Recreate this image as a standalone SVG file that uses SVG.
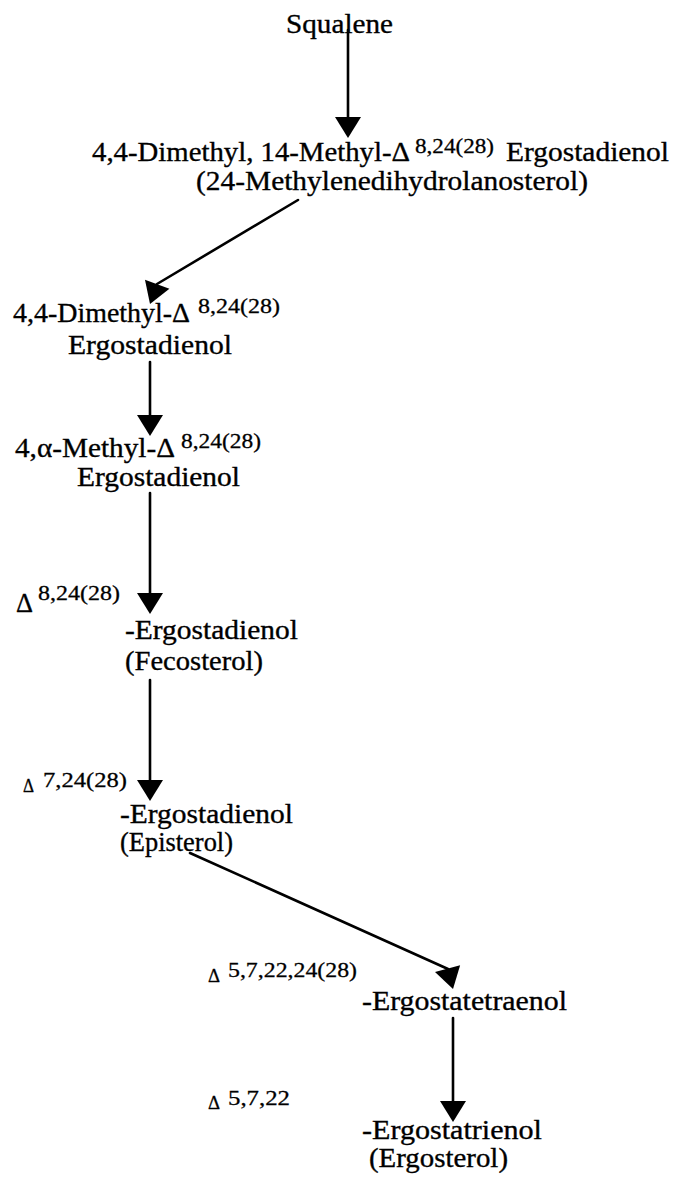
<svg xmlns="http://www.w3.org/2000/svg" xmlns:xlink="http://www.w3.org/1999/xlink" width="673" height="1180" viewBox="0 0 673 1180">
<style>
.t{font-family:"Liberation Serif","Times New Roman",serif;font-size:28px;fill:#000;stroke:#000;stroke-width:0.35}
.s{font-family:"Liberation Serif","Times New Roman",serif;font-size:22px;fill:#000;stroke:#000;stroke-width:0.3}
.d{font-family:"Liberation Serif","Times New Roman",serif;font-size:18px;fill:#000;stroke:#000;stroke-width:0.3}
.ln{stroke:#000;stroke-width:2.6;fill:none;stroke-linecap:round}
.hd{fill:#000}
</style>
<defs>
<path id="head" d="M-13,-21 L13,-21 L0,0 Z"/>
</defs>
<rect width="673" height="1180" fill="#fff"/>
<g id="connectors">
<line class="ln" x1="348" y1="30" x2="348" y2="119"/>
<use href="#head" class="hd" transform="translate(348,138)"/>
<line class="ln" x1="298" y1="200" x2="157" y2="284"/>
<use href="#head" class="hd" transform="translate(150,304) rotate(20)"/>
<line class="ln" x1="150" y1="362" x2="150" y2="418"/>
<use href="#head" class="hd" transform="translate(150,436)"/>
<line class="ln" x1="150" y1="493" x2="150" y2="595"/>
<use href="#head" class="hd" transform="translate(150,614)"/>
<line class="ln" x1="150" y1="680" x2="150" y2="782"/>
<use href="#head" class="hd" transform="translate(150,801)"/>
<line class="ln" x1="190" y1="853" x2="448" y2="969"/>
<use href="#head" class="hd" transform="translate(453,989) rotate(-15)"/>
<line class="ln" x1="453" y1="1018" x2="453" y2="1104"/>
<use href="#head" class="hd" transform="translate(453,1122)"/>
</g>
<g id="squalene">
<text class="t" x="286" y="33" textLength="107" lengthAdjust="spacingAndGlyphs">Squalene</text>
</g>
<g id="methylenedihydrolanosterol">
<text class="t" x="92" y="161" textLength="318" lengthAdjust="spacingAndGlyphs">4,4-Dimethyl, 14-Methyl-Δ</text>
<text class="s" x="415" y="153" textLength="79" lengthAdjust="spacingAndGlyphs">8,24(28)</text>
<text class="t" x="506" y="161" textLength="163" lengthAdjust="spacingAndGlyphs">Ergostadienol</text>
<text class="t" x="196" y="190" textLength="392" lengthAdjust="spacingAndGlyphs">(24-Methylenedihydrolanosterol)</text>
</g>
<g id="dimethyl-ergostadienol">
<text class="t" x="13" y="322" textLength="177" lengthAdjust="spacingAndGlyphs">4,4-Dimethyl-Δ</text>
<text class="s" x="198" y="313" textLength="82" lengthAdjust="spacingAndGlyphs">8,24(28)</text>
<text class="t" x="68" y="354" textLength="164" lengthAdjust="spacingAndGlyphs">Ergostadienol</text>
</g>
<g id="methyl-ergostadienol">
<text class="t" x="15" y="457" textLength="160" lengthAdjust="spacingAndGlyphs">4,α-Methyl-Δ</text>
<text class="s" x="181" y="448" textLength="80" lengthAdjust="spacingAndGlyphs">8,24(28)</text>
<text class="t" x="77" y="486" textLength="163" lengthAdjust="spacingAndGlyphs">Ergostadienol</text>
</g>
<g id="fecosterol">
<text class="t" x="16" y="612" textLength="17" lengthAdjust="spacingAndGlyphs">Δ</text>
<text class="s" x="38" y="600" textLength="82" lengthAdjust="spacingAndGlyphs">8,24(28)</text>
<text class="t" x="125" y="639" textLength="173" lengthAdjust="spacingAndGlyphs">-Ergostadienol</text>
<text class="t" x="125" y="670" textLength="138" lengthAdjust="spacingAndGlyphs">(Fecosterol)</text>
</g>
<g id="episterol">
<text class="d" x="23" y="792" textLength="11" lengthAdjust="spacingAndGlyphs">Δ</text>
<text class="s" x="43" y="787" textLength="84" lengthAdjust="spacingAndGlyphs">7,24(28)</text>
<text class="t" x="120" y="823" textLength="173" lengthAdjust="spacingAndGlyphs">-Ergostadienol</text>
<text class="t" x="120" y="851" textLength="113" lengthAdjust="spacingAndGlyphs">(Episterol)</text>
</g>
<g id="ergostatetraenol">
<text class="d" x="208" y="982" textLength="12" lengthAdjust="spacingAndGlyphs">Δ</text>
<text class="s" x="228" y="977" textLength="129" lengthAdjust="spacingAndGlyphs">5,7,22,24(28)</text>
<text class="t" x="362" y="1010" textLength="205" lengthAdjust="spacingAndGlyphs">-Ergostatetraenol</text>
</g>
<g id="ergosterol">
<text class="d" x="208" y="1109" textLength="12" lengthAdjust="spacingAndGlyphs">Δ</text>
<text class="s" x="228" y="1105" textLength="62" lengthAdjust="spacingAndGlyphs">5,7,22</text>
<text class="t" x="362" y="1139" textLength="180" lengthAdjust="spacingAndGlyphs">-Ergostatrienol</text>
<text class="t" x="369" y="1167" textLength="139" lengthAdjust="spacingAndGlyphs">(Ergosterol)</text>
</g>
</svg>
